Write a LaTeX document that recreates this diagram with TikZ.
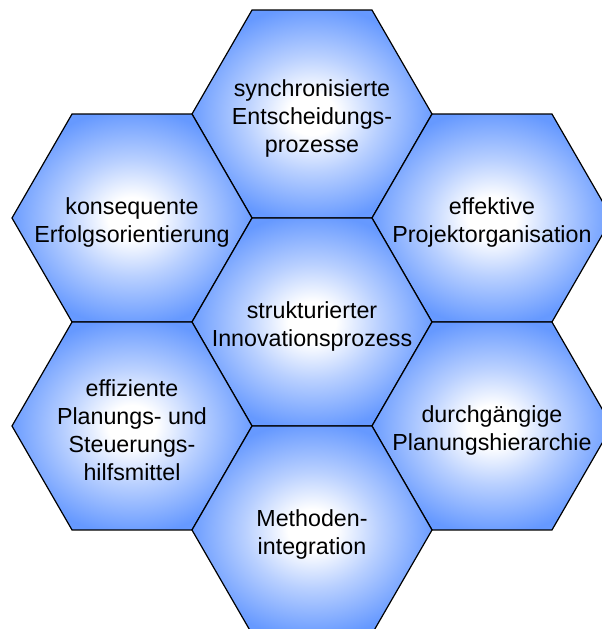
\documentclass[tikz,border=0pt]{standalone}
\usepackage{fontspec}
\setmainfont{Liberation Sans}
\usetikzlibrary{shapes.geometric}
\definecolor{hexblue}{RGB}{102,153,255}
\definecolor{hexmid}{RGB}{185,208,255}
\pgfdeclareradialshading{hexshade}{\pgfpoint{0bp}{0bp}}{color(0bp)=(white); color(5bp)=(white); color(14bp)=(hexmid); color(26bp)=(hexblue); color(50bp)=(hexblue)}
\begin{document}
\begin{tikzpicture}[x=1pt,y=-1pt,
  hexa/.style={regular polygon, regular polygon sides=6, minimum size=240pt,
    inner sep=0pt, outer sep=0pt, draw=black, line width=1.2pt, shading=hexshade},
  hextext/.style={align=center, font=\fontsize{23.25}{28}\selectfont, text=black, yshift=-4pt}]
\useasboundingbox (0,0) rectangle (602,629);
\clip (0,0) rectangle (602,629);
\node[hexa] (top) at (312,114) {};
\node[hexa] (lt) at (132,218) {};
\node[hexa] (rt) at (492,218) {};
\node[hexa] (mid) at (312,322) {};
\node[hexa] (lb) at (132,426) {};
\node[hexa] (rb) at (492,426) {};
\node[hexa] (bot) at (312,530) {};
\node[hextext] (ttop) at (top) {synchronisierte\\Entscheidungs-\\prozesse};
\node[hextext] (tlt) at (lt) {konsequente\\Erfolgsorientierung};
\node[hextext] (trt) at (rt) {effektive\\Projektorganisation};
\node[hextext] (tmid) at (mid) {strukturierter\\Innovationsprozess};
\node[hextext] (tlb) at (lb) {effiziente\\Planungs- und\\Steuerungs-\\hilfsmittel};
\node[hextext] (trb) at (rb) {durchgängige\\Planungshierarchie};
\node[hextext] (tbot) at (bot) {Methoden-\\integration};
\end{tikzpicture}
\end{document}
